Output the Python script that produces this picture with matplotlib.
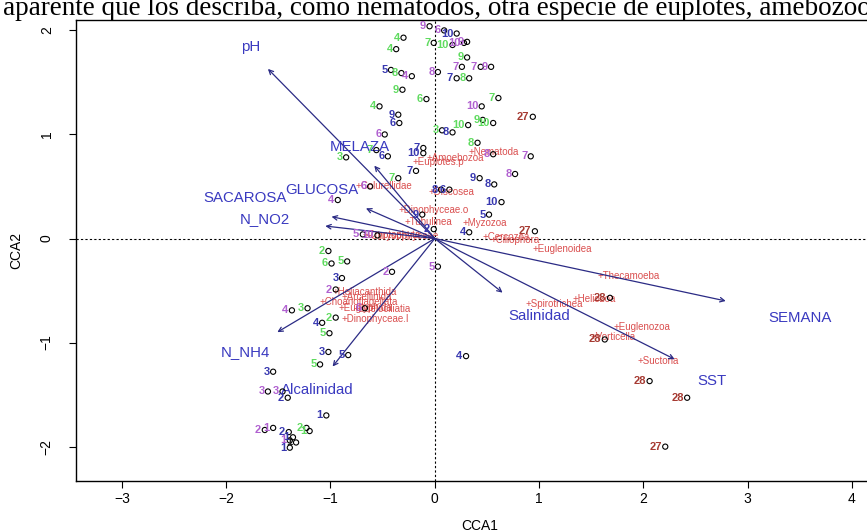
import matplotlib
matplotlib.use("Agg")
import matplotlib.pyplot as plt
import numpy as np

plt.rcParams['font.family'] = ['Liberation Sans', 'DejaVu Sans']

# sample scores (CCA1, CCA2), label, colour group
site_x = [-0.05, 0.09, 0.21, -0.30, -0.37, -0.01, 0.17, 0.28, 0.31, 0.31, 0.26, 0.44, 0.54,
          -0.42, -0.32, -0.22, 0.03, 0.21, 0.33, -0.31, -0.08, 0.61, -0.53, 0.45,
          -0.35, -0.34, 0.94, 0.46, 0.56, 0.32, -0.48, 0.07, 0.17, 0.41, -0.11, -0.11, -0.45,
          -0.85, -0.56, 0.56, 0.92, -0.18, 0.77, 0.43, 0.57, -0.35, -0.62, -0.93, 0.06, 0.14,
          0.64, 0.52, 0.33, 0.96, -0.12, -0.01, -0.69, -0.55, 0.03,
          -1.02, -0.99, -0.84, -0.89, -0.41, -0.95, -1.37, -1.22, -0.67, -1.08, -0.95, -1.01,
          -1.02, -0.83, -1.10, 0.30, -1.55, -1.60, -1.46, -1.41, -1.04, -1.63, -1.55, -1.40,
          -1.23, -1.20, -1.36, -1.39, -1.33, -1.39,
          2.06, 2.42, 2.21, 1.63, 1.68]
site_y = [2.04, 2.00, 1.97, 1.93, 1.82, 1.88, 1.86, 1.88, 1.89, 1.74, 1.65, 1.65, 1.65,
          1.62, 1.59, 1.56, 1.60, 1.54, 1.54, 1.43, 1.34, 1.35, 1.27, 1.27,
          1.19, 1.11, 1.17, 1.14, 1.11, 1.09, 1.00, 1.04, 1.02, 0.92, 0.87, 0.82, 0.79,
          0.78, 0.85, 0.81, 0.79, 0.65, 0.62, 0.58, 0.52, 0.58, 0.50, 0.37, 0.47, 0.47,
          0.35, 0.23, 0.06, 0.07, 0.23, 0.09, 0.04, 0.03, -0.27,
          -0.12, -0.24, -0.22, -0.38, -0.32, -0.49, -0.69, -0.67, -0.67, -0.81, -0.76, -0.91,
          -1.09, -1.12, -1.21, -1.13, -1.28, -1.47, -1.47, -1.53, -1.70, -1.84, -1.82, -1.86,
          -1.82, -1.85, -1.91, -1.94, -1.96, -2.01,
          -1.37, -1.53, -2.00, -0.97, -0.57]
site_lab = ['9', '6', '10', '4', '4', '7', '10', '10', '9', '9', '7', '7', '9',
            '5', '8', '4', '8', '7', '8', '9', '6', '7', '4', '10',
            '9', '6', '27', '9', '10', '10', '6', '3', '8', '8', '7', '10', '6',
            '3', '7', '8', '7', '7', '8', '9', '8', '7', '6', '4', '8', '6',
            '10', '5', '4', '27', '9', '2', '5', '10', '5',
            '2', '6', '5', '3', '2', '2', '4', '3', '6', '4', '2', '5',
            '3', '5', '5', '4', '3', '3', '3', '2', '1', '2', '1', '2',
            '2', '1', '1', '1', '1', '1',
            '28', '28', '27', '28', '28']
site_grp = ['p', 'p', 'b', 'g', 'g', 'g', 'g', 'p', 'p', 'g', 'p', 'p', 'p',
            'b', 'g', 'p', 'p', 'b', 'g', 'g', 'g', 'g', 'g', 'p',
            'b', 'b', 'r', 'g', 'g', 'g', 'p', 'g', 'b', 'g', 'b', 'b', 'b',
            'g', 'g', 'p', 'p', 'b', 'p', 'b', 'b', 'g', 'p', 'p', 'b', 'b',
            'b', 'b', 'b', 'r', 'b', 'b', 'p', 'p', 'p',
            'g', 'g', 'g', 'b', 'p', 'p', 'p', 'g', 'p', 'b', 'g', 'g',
            'b', 'b', 'g', 'b', 'b', 'p', 'p', 'b', 'b', 'p', 'p', 'b',
            'g', 'g', 'b', 'p', 'k', 'b',
            'r', 'r', 'r', 'r', 'r']

# species scores
sp_x = [0.32, -0.08, -0.21, -0.76, -0.06, -0.35, -0.29, 0.27, -0.69, -0.66, 0.46, 0.53,
        0.94, 1.56, 1.32, 0.87, 1.71, 1.49, 1.94, -0.98, -0.89, -1.11, -0.92, -0.78, -0.89]
sp_y = [0.83, 0.77, 0.74, 0.50, 0.45, 0.27, 0.16, 0.15, 0.03, 0.02, 0.01, -0.01,
        -0.10, -0.36, -0.58, -0.63, -0.85, -0.95, -1.18, -0.51, -0.56, -0.61, -0.67, -0.68, -0.77]
sp_lab = ['Nematoda', 'Amoebozoa', 'Euplotes.p', 'Colurellidae', 'Discosea', 'Dinophyceae.o',
          'Tubulinea', 'Myzozoa', 'Cryptophyta', 'Chrysophyceae', 'Cercozoa', 'Ciliophora',
          'Euglenoidea', 'Thecamoeba', 'Heliozoa', 'Spirotrichea', 'Euglenozoa', 'Vorticella',
          'Suctoria', 'Heliacanthida', 'Arcellinida', 'Choanoflagellata', 'Euglyphida',
          'Bdelociliatia', 'Dinophyceae.I']

# environmental biplot arrows
env_lab = ['pH', 'MELAZA', 'GLUCOSA', 'SACAROSA', 'N_NO2', 'N_NH4', 'Alcalinidad',
           'Salinidad', 'SEMANA', 'SST']
env_x = [-1.60, -0.58, -0.66, -0.99, -1.05, -1.51, -0.98, 0.65, 2.79, 2.30]
env_y = [1.63, 0.70, 0.29, 0.21, 0.12, -0.90, -1.23, -0.52, -0.60, -1.16]
env_lx = [-1.77, -0.72, -1.08, -1.82, -1.63, -1.82, -1.13, 1.00, 3.50, 2.66]
env_ly = [1.84, 0.88, 0.47, 0.39, 0.19, -1.09, -1.46, -0.74, -0.76, -1.37]

colors = {'b': '#3838B0', 'g': '#5FDB5F', 'p': '#B060D0', 'r': '#A63A32', 'k': '#202020'}

fig = plt.figure(figsize=(8.67, 5.32), dpi=100)
ax = fig.add_axes([0.0877, 0.0959, 0.931, 0.8665])
ax.set_xlim(-3.44, 4.3)
ax.set_ylim(-2.33, 2.10)

ax.axhline(0, color='black', lw=0.8, ls=(0, (2, 2)))
ax.axvline(0, color='black', lw=0.8, ls=(0, (2, 2)))

# species
for x, y, s in zip(sp_x, sp_y, sp_lab):
    ax.text(x, y, '+' + s, color='#D63C3C', fontsize=7, ha='left', va='center', alpha=0.9)

# arrows
for x, y in zip(env_x, env_y):
    ax.annotate('', xy=(x, y), xytext=(0, 0),
                arrowprops=dict(arrowstyle='->', color='#2B2B85', lw=0.9,
                                mutation_scale=8, shrinkA=0, shrinkB=0))
for x, y, s in zip(env_lx, env_ly, env_lab):
    ax.text(x, y, s, color='#3A3AC0', fontsize=10.8, ha='center', va='center')

# sites
ax.scatter(site_x, site_y, s=14, facecolors='none', edgecolors='black', linewidths=0.8, zorder=3)
for x, y, s, g in zip(site_x, site_y, site_lab, site_grp):
    ax.annotate(s, (x, y), xytext=(-2.5, 0), textcoords='offset points', color=colors[g],
                fontsize=8, fontweight='bold', ha='right', va='center')

ax.set_xticks([-3, -2, -1, 0, 1, 2, 3, 4])
ax.set_yticks([-2, -1, 0, 1, 2])
ax.tick_params(direction='out', length=5, width=0.8, labelsize=10)
ax.tick_params(axis='x', pad=3)
ax.tick_params(axis='y', pad=11)
for lab in ax.get_yticklabels():
    lab.set_rotation(90)
    lab.set_va('center')
ax.set_xlabel('CCA1', fontsize=10, labelpad=9)
ax.set_ylabel('CCA2', fontsize=10, labelpad=12)
for sp in ax.spines.values():
    sp.set_linewidth(1.0)

fig.text(0.003, 1 - 15 / 532, 'aparente que los describa, como nematodos, otra especie de euplotes, amebozoos',
         family='Liberation Serif', fontsize=19.5, ha='left', va='baseline')

fig.savefig('out.png', dpi=100)
